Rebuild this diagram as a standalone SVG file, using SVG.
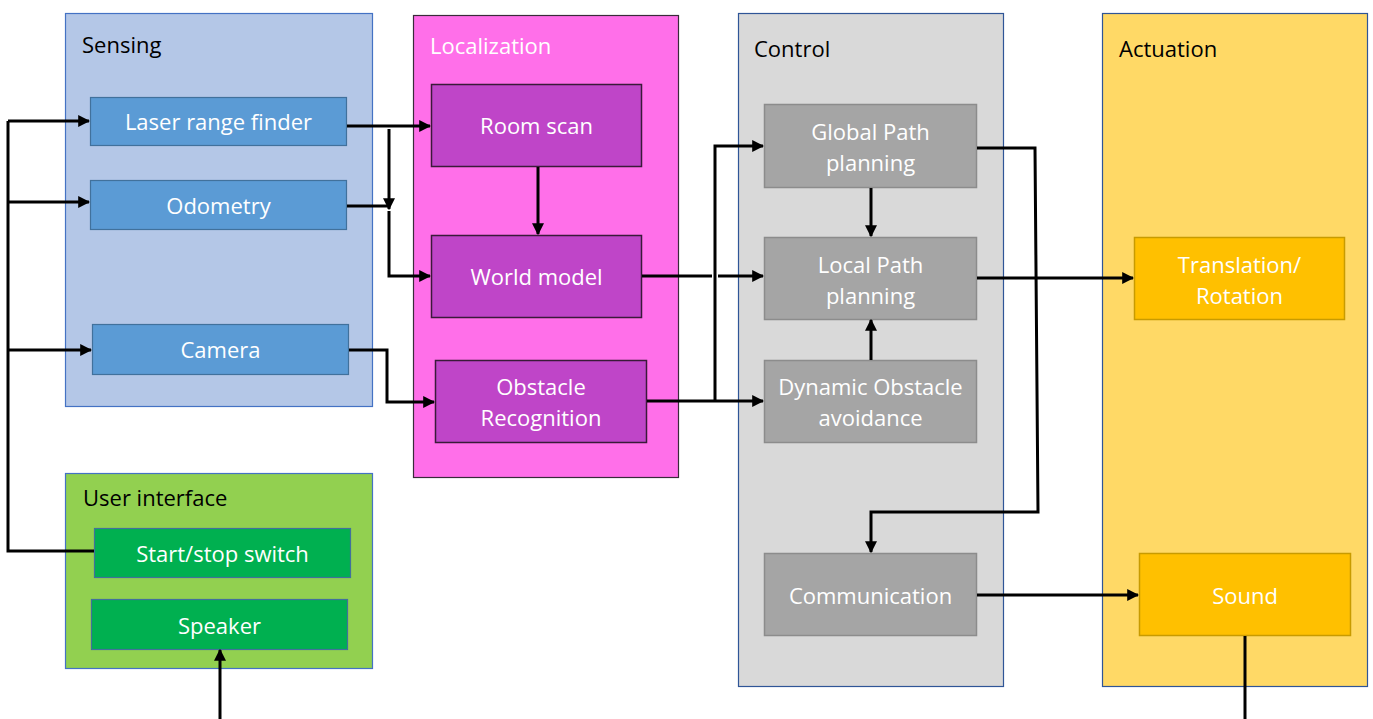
<svg xmlns="http://www.w3.org/2000/svg" width="1373" height="719" viewBox="0 0 1373 719">
  <defs>
    <marker id="arrow" viewBox="0 0 10 10" refX="9" refY="5" markerWidth="4" markerHeight="4" orient="auto" markerUnits="strokeWidth">
      <path d="M0,0 L10,5 L0,10 z" fill="#000"/>
    </marker>
    <style>
      text { font-family: "Open Sans", "Noto Sans", "Liberation Sans", sans-serif; font-size: 22px; }
      .grp-label { fill: #000; }
      .grp-label-w { fill: #fff; }
      .node-text { fill: #fff; text-anchor: middle; dominant-baseline: central; }
      .wire { fill: none; stroke: #000; stroke-width: 3; }
      .arrowed { marker-end: url(#arrow); }
      .sensing { fill: #B4C7E7; stroke: #4472C4; stroke-width: 1.2; }
      .local { fill: #FF6FE9; stroke: #3A2A3A; stroke-width: 1.2; }
      .control { fill: #D9D9D9; stroke: #2F5597; stroke-width: 1.2; }
      .actuation { fill: #FFD966; stroke: #2F5597; stroke-width: 1.2; }
      .ui { fill: #92D050; stroke: #4472C4; stroke-width: 1.2; }
      .n-blue { fill: #5B9BD5; stroke: #41719C; stroke-width: 1.2; }
      .n-purple { fill: #BF45C8; stroke: #3A1A3A; stroke-width: 1.5; }
      .n-grey { fill: #A5A5A5; stroke: #8C8C8C; stroke-width: 1.5; }
      .n-gold { fill: #FFC000; stroke: #C89B00; stroke-width: 1.5; }
      .n-green { fill: #00B050; stroke: #41719C; stroke-width: 1.2; }
    </style>
  </defs>

  <rect width="1373" height="719" fill="#fff"/>

  <!-- Subsystem containers -->
  <g id="sensing">
    <rect class="sensing" x="65.5" y="13.5" width="307" height="393"/>
    <text class="grp-label" x="82" y="53">Sensing</text>
  </g>
  <g id="localization">
    <rect class="local" x="413.5" y="15.5" width="265" height="462"/>
    <text class="grp-label-w" x="430" y="54">Localization</text>
  </g>
  <g id="control">
    <rect class="control" x="738.5" y="13.5" width="265" height="673"/>
    <text class="grp-label" x="754" y="57">Control</text>
  </g>
  <g id="actuation">
    <rect class="actuation" x="1102.5" y="13.5" width="265" height="673"/>
    <text class="grp-label" x="1119" y="57">Actuation</text>
  </g>
  <g id="user-interface">
    <rect class="ui" x="65.5" y="473.5" width="307" height="195"/>
    <text class="grp-label" x="83" y="506">User interface</text>
  </g>

  <!-- Sensing nodes -->
  <g id="laser-range-finder">
    <rect class="n-blue" x="90.5" y="97.5" width="256" height="48"/>
    <text class="node-text" x="218.5" y="121">Laser range finder</text>
  </g>
  <g id="odometry">
    <rect class="n-blue" x="90.5" y="180.5" width="256" height="49"/>
    <text class="node-text" x="218.5" y="205">Odometry</text>
  </g>
  <g id="camera">
    <rect class="n-blue" x="92.5" y="324.5" width="256" height="50"/>
    <text class="node-text" x="220.5" y="349">Camera</text>
  </g>

  <!-- Localization nodes -->
  <g id="room-scan">
    <rect class="n-purple" x="431.5" y="84.5" width="210" height="82"/>
    <text class="node-text" x="536.5" y="125">Room scan</text>
  </g>
  <g id="world-model">
    <rect class="n-purple" x="431.5" y="235.5" width="210" height="82"/>
    <text class="node-text" x="536.5" y="276">World model</text>
  </g>
  <g id="obstacle-recognition">
    <rect class="n-purple" x="435.5" y="360.5" width="211" height="82"/>
    <text class="node-text" x="541" y="386">Obstacle</text>
    <text class="node-text" x="541" y="417">Recognition</text>
  </g>

  <!-- Control nodes -->
  <g id="global-path-planning">
    <rect class="n-grey" x="764.5" y="104.5" width="212" height="83"/>
    <text class="node-text" x="870.5" y="131">Global Path</text>
    <text class="node-text" x="870.5" y="162">planning</text>
  </g>
  <g id="local-path-planning">
    <rect class="n-grey" x="764.5" y="237.5" width="212" height="82"/>
    <text class="node-text" x="870.5" y="264">Local Path</text>
    <text class="node-text" x="870.5" y="295">planning</text>
  </g>
  <g id="dynamic-obstacle-avoidance">
    <rect class="n-grey" x="764.5" y="360.5" width="212" height="82"/>
    <text class="node-text" x="870.5" y="386">Dynamic Obstacle</text>
    <text class="node-text" x="870.5" y="417">avoidance</text>
  </g>
  <g id="communication">
    <rect class="n-grey" x="764.5" y="553.5" width="212" height="82"/>
    <text class="node-text" x="870.5" y="595">Communication</text>
  </g>

  <!-- Actuation nodes -->
  <g id="translation-rotation">
    <rect class="n-gold" x="1134.5" y="237.5" width="210" height="82"/>
    <text class="node-text" x="1239.5" y="264">Translation/</text>
    <text class="node-text" x="1239.5" y="295">Rotation</text>
  </g>
  <g id="sound">
    <rect class="n-gold" x="1139.5" y="553.5" width="211" height="82"/>
    <text class="node-text" x="1245" y="595">Sound</text>
  </g>

  <!-- User interface nodes -->
  <g id="start-stop-switch">
    <rect class="n-green" x="94.5" y="528.5" width="256" height="49"/>
    <text class="node-text" x="222.5" y="553">Start/stop switch</text>
  </g>
  <g id="speaker">
    <rect class="n-green" x="91.5" y="599.5" width="256" height="50"/>
    <text class="node-text" x="219.5" y="625">Speaker</text>
  </g>

  <!-- Connectors -->
  <g id="connectors">
    <!-- start/stop switch feeding the sensors -->
    <path class="wire" d="M94,551 H8 V121"/>
    <path class="wire arrowed" d="M8,121 H89"/>
    <path class="wire arrowed" d="M8,202 H89"/>
    <path class="wire arrowed" d="M8,350 H91"/>

    <!-- sensors to localization -->
    <path class="wire arrowed" d="M347,126 H430"/>
    <path class="wire arrowed" d="M389,129 V209"/>
    <path class="wire" d="M347,206 H389"/>
    <path class="wire arrowed" d="M389,211 V276 H430"/>
    <path class="wire arrowed" d="M349,350 H387 V402 H434"/>

    <!-- localization internals -->
    <path class="wire arrowed" d="M538,167 V234"/>

    <!-- localization to control -->
    <path class="wire" d="M642,276 H712"/>
    <path class="wire arrowed" d="M718,276 H763"/>
    <path class="wire arrowed" d="M647,401 H763"/>
    <path class="wire arrowed" d="M715,401 V146 H763"/>

    <!-- control internals -->
    <path class="wire arrowed" d="M871,188 V236"/>
    <path class="wire arrowed" d="M871,360 V320"/>
    <path class="wire arrowed" d="M977,148 H1035 L1038,512 H871 V552"/>

    <!-- control to actuation -->
    <path class="wire arrowed" d="M977,278 H1133"/>
    <path class="wire arrowed" d="M977,595 H1138"/>

    <!-- outgoing sound line and speaker feed -->
    <path class="wire" d="M1245,636 V719"/>
    <path class="wire arrowed" d="M220,719 V650"/>
  </g>
</svg>
